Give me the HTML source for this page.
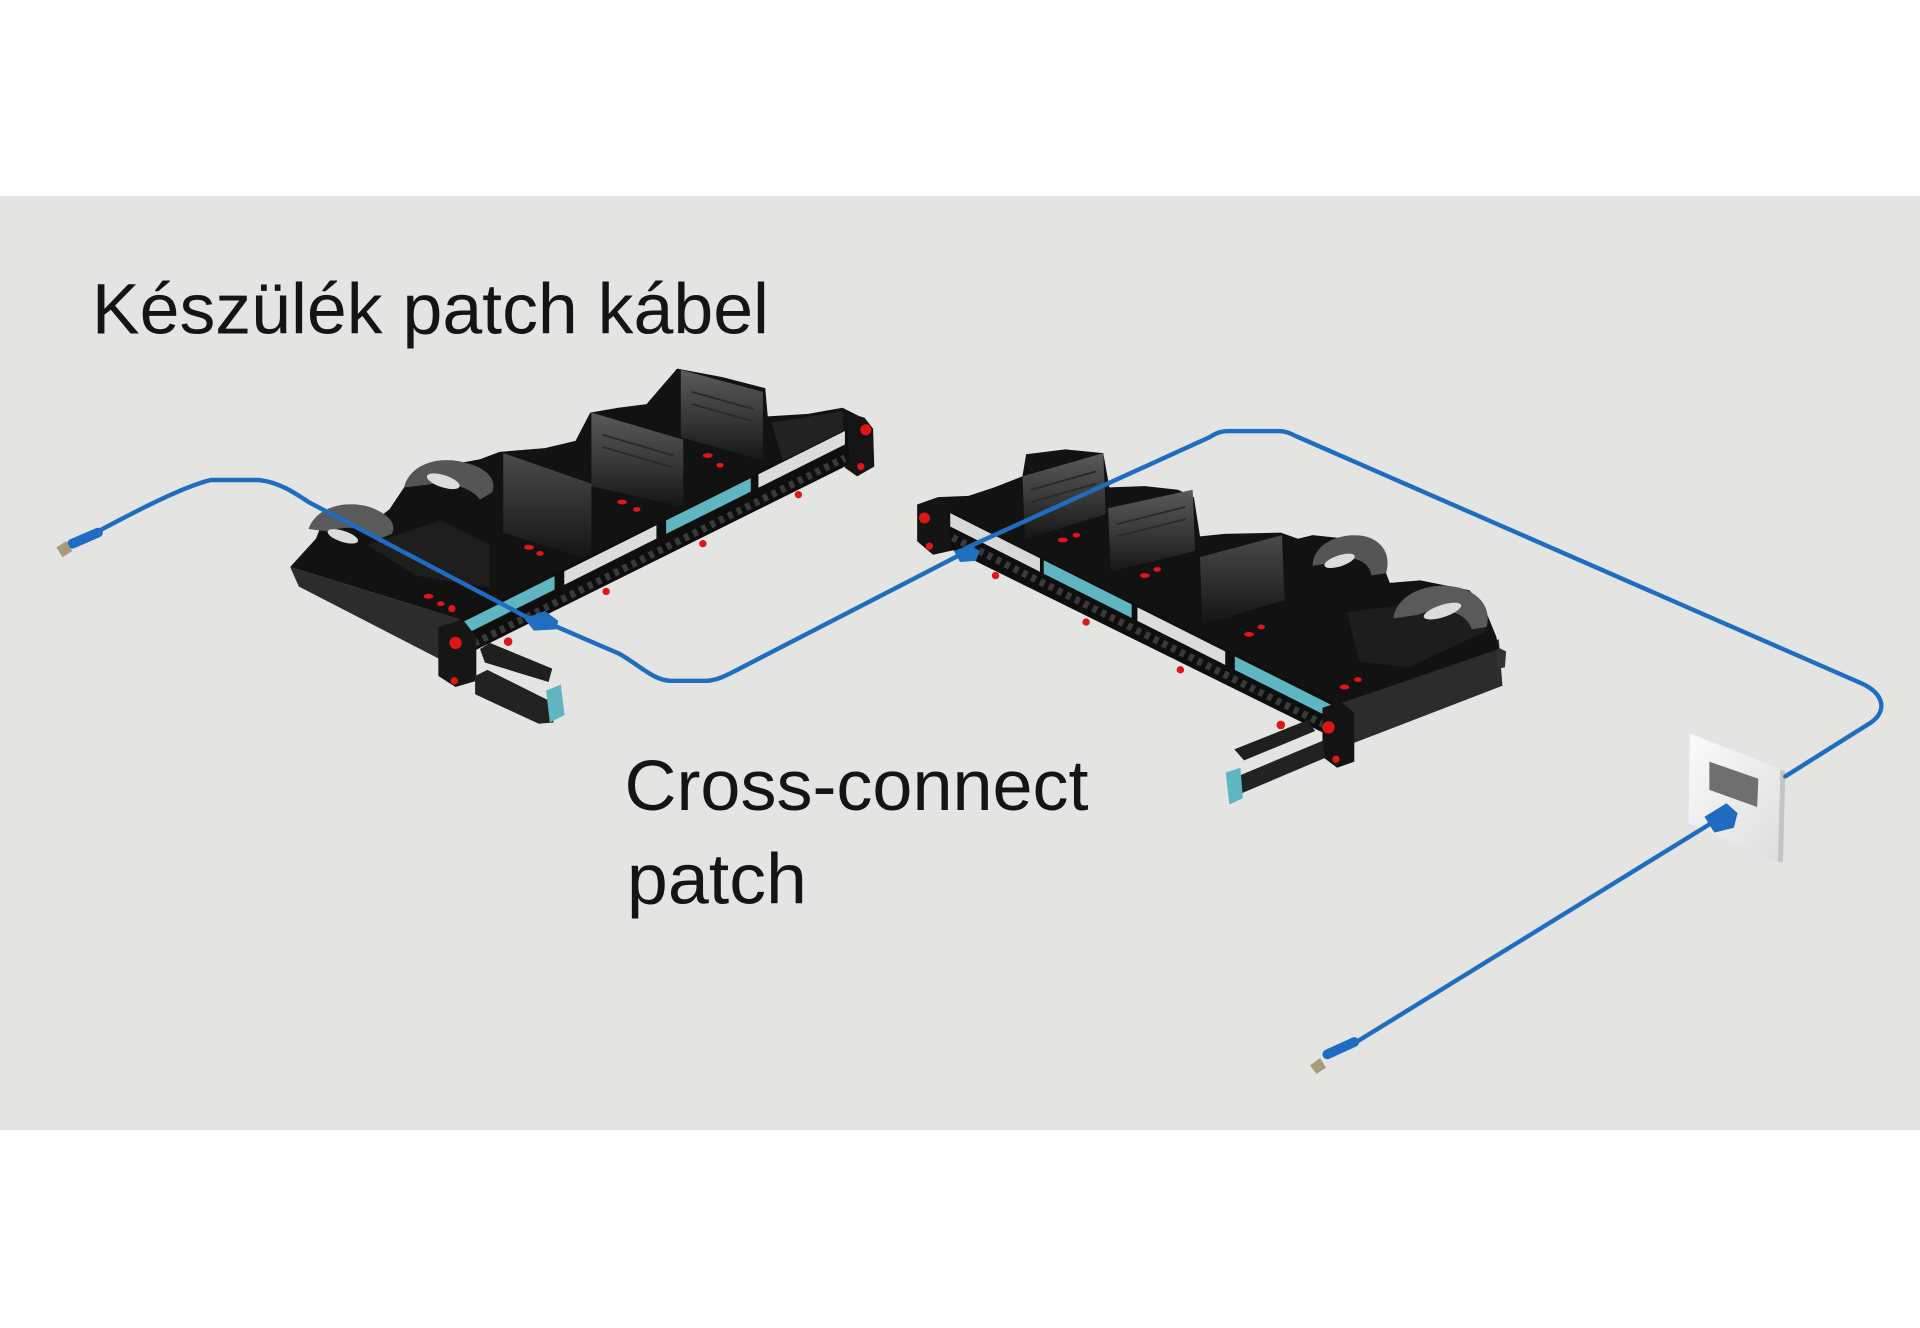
<!DOCTYPE html>
<html><head><meta charset="utf-8">
<style>
html,body{margin:0;padding:0;background:#fff;}
svg{display:block;}
</style></head><body>
<svg width="1920" height="1328" viewBox="0 0 1568 1084.5" preserveAspectRatio="none" xmlns="http://www.w3.org/2000/svg">
<defs>
 <linearGradient id="wall" x1="0" y1="0" x2="0" y2="1">
  <stop offset="0" stop-color="#4a4a4a"/>
  <stop offset="0.6" stop-color="#2a2a2a"/>
  <stop offset="1" stop-color="#141414"/>
 </linearGradient>
 <linearGradient id="wallL" x1="0" y1="0" x2="0" y2="1">
  <stop offset="0" stop-color="#5a5a5a"/>
  <stop offset="0.5" stop-color="#3a3a3a"/>
  <stop offset="1" stop-color="#161616"/>
 </linearGradient>
 <linearGradient id="plate" x1="0" y1="0" x2="1" y2="1">
  <stop offset="0" stop-color="#fafafa"/>
  <stop offset="1" stop-color="#dedede"/>
 </linearGradient>
</defs>
<rect x="0" y="0" width="1568" height="1084.5" fill="#ffffff"/>
<rect x="0" y="160" width="1568" height="762.8" fill="#e4e4e3"/>

<!-- Labels -->
<g font-family="'Liberation Sans', 'DejaVu Sans', sans-serif" font-size="58.5" fill="#141414">
 <text x="75" y="272.5" textLength="553" lengthAdjust="spacingAndGlyphs">Készülék patch kábel</text>
 <text x="510" y="661.5" textLength="379" lengthAdjust="spacingAndGlyphs">Cross-connect</text>
 <text x="512" y="738" textLength="147" lengthAdjust="spacingAndGlyphs">patch</text>
</g>

<!-- ============ PANEL 1 ============ -->
<g>
 <!-- left end face -->
 <polygon points="237,463 376,506 378,548 244,479" fill="#2c2c2c"/>
 <!-- top mass -->
 <polygon points="237,463 247,452 258,440 262,430 285,423 300,430 318,416 330,398 342,386 365,380 392,375 408,369 445,366 470,360 482,337 505,333 528,330 553,301 590,308 625,317 627,340 660,338 688,333 702,340 690,352 376,509 376,506" fill="#121212"/>
 <!-- inner textures -->
 <polygon points="300,445 360,425 400,445 400,480 340,470" fill="#1e1e1e"/>
 <polygon points="630,345 688,336 690,352 640,378" fill="#222"/>
 <!-- walls -->
 <polygon points="411,370 483,395 483,457 411,435" fill="url(#wall)"/>
 <polygon points="483,337 558,359 558,414 483,397" fill="url(#wallL)"/>
 <polygon points="556,302 623,320 623,376 556,357" fill="url(#wallL)"/>
 <g stroke="#2a2a2a" stroke-width="1.5">
  <line x1="565" y1="320" x2="615" y2="334"/>
  <line x1="565" y1="330" x2="615" y2="344"/>
  <line x1="492" y1="355" x2="550" y2="372"/>
  <line x1="492" y1="365" x2="550" y2="382"/>
 </g>
 <!-- curls -->
 <path d="M330,398 C335,378 360,372 380,378 C398,382 406,392 402,402 L392,408 C385,398 365,392 348,396 Z" fill="#555"/>
 <ellipse cx="362" cy="393" rx="14" ry="5" fill="#dcdcdc" transform="rotate(18 362 393)"/>
 <path d="M252,432 C258,414 282,408 302,414 C318,420 324,428 320,436 L310,440 C302,432 284,428 268,434 Z" fill="#5a5a5a"/>
 <ellipse cx="280" cy="438" rx="13" ry="4.5" fill="#dcdcdc" transform="rotate(18 280 438)"/>
 <!-- right end block -->
 <polygon points="688,336 706,341 713,350 714,381 700,389 690,382" fill="#151515"/>
 <!-- front face -->
 <polygon points="374,507 692,350 694,379 376,537" fill="#0e0e0e"/>
 <!-- strip sections -->
 <polygon points="376,509 452.9,470.5 452.9,481.5 376,520" fill="#5fb5c1"/>
 <polygon points="460.8,466.6 536.1,428.9 536.1,439.9 460.8,477.6" fill="#dcdcdc"/>
 <polygon points="544,425 613.1,390.5 613.1,401.5 544,436" fill="#5fb5c1"/>
 <polygon points="619.4,387.3 690,352 690,363 619.4,398.3" fill="#dcdcdc"/>
 <!-- ports -->
 <line x1="380" y1="529" x2="690" y2="374" stroke="#3a3a3a" stroke-width="6" stroke-dasharray="4 4"/>
 <!-- left vertical piece -->
 <polygon points="358,512 378,506 389,520 389,556 372,561 358,552" fill="#161616"/>
 <!-- arm -->
 <polygon points="392,530 400,525 451,546 448,557 396,541" fill="#1f1f1f"/>
 <polygon points="388,552 398,547 452,574 452,590 440,591 388,567" fill="#222"/>
 <polygon points="446,564 458,559 461,584 449,590" fill="#5fb6c2"/>
 <!-- red dots -->
 <g fill="#e01515">
  <circle cx="372" cy="525" r="5"/>
  <circle cx="369" cy="497" r="3"/>
  <circle cx="371" cy="556" r="3"/>
  <circle cx="415" cy="524" r="3.5"/>
  <circle cx="495" cy="483" r="3"/>
  <circle cx="574" cy="444" r="3"/>
  <circle cx="652" cy="404" r="3"/>
  <circle cx="707" cy="351" r="4.5"/>
  <circle cx="703" cy="381" r="3"/>
  <ellipse cx="432" cy="447" rx="4" ry="2"/>
  <ellipse cx="441" cy="452" rx="3" ry="2"/>
  <ellipse cx="508" cy="410" rx="4" ry="2"/>
  <ellipse cx="520" cy="416" rx="3" ry="2"/>
  <ellipse cx="578" cy="372" rx="4" ry="2"/>
  <ellipse cx="588" cy="380" rx="3" ry="2"/>
  <ellipse cx="350" cy="487" rx="4" ry="2"/>
  <ellipse cx="360" cy="493" rx="3" ry="2"/>
 </g>
</g>

<!-- ============ PANEL 2 ============ -->
<g>
 <!-- right slab face -->
 <polygon points="1090,575 1224,522 1227,560 1105,607 1092,606" fill="#2c2c2c"/>
 <polygon points="1222,528 1230,532 1229,545 1223,546" fill="#333"/>
 <!-- top mass -->
 <polygon points="766,406 791,405 812,398 835,389 838,371 870,367 901,370 906,398 935,397 962,400 975,406 980,438 1000,436 1046,435 1060,440 1072,437 1100,440 1128,458 1135,476 1160,474 1200,482 1213,498 1222,520 1224,530 1090,576 776,419" fill="#121212"/>
 <polygon points="1100,500 1180,490 1215,515 1150,545 1110,540" fill="#1d1d1d"/>
 <!-- walls -->
 <polygon points="835,389 901,370 903,420 837,440" fill="url(#wallL)"/>
 <polygon points="905,415 974,400 976,450 907,467" fill="url(#wallL)"/>
 <polygon points="980,455 1047,437 1049,490 982,510" fill="url(#wall)"/>
 <g stroke="#2a2a2a" stroke-width="1.5">
  <line x1="842" y1="400" x2="895" y2="385"/>
  <line x1="842" y1="410" x2="895" y2="395"/>
  <line x1="912" y1="428" x2="968" y2="414"/>
  <line x1="912" y1="438" x2="968" y2="424"/>
 </g>
 <!-- curls -->
 <path d="M1072,462 C1072,444 1095,434 1115,438 C1130,442 1136,454 1132,468 L1120,470 C1118,456 1100,452 1086,460 Z" fill="#555"/>
 <ellipse cx="1094" cy="458" rx="13" ry="4.5" fill="#dcdcdc" transform="rotate(-18 1094 458)"/>
 <path d="M1138,505 C1140,485 1168,474 1192,480 C1210,485 1218,498 1214,512 L1202,514 C1198,500 1178,494 1158,502 Z" fill="#5a5a5a"/>
 <ellipse cx="1178" cy="499" rx="16" ry="5" fill="#dcdcdc" transform="rotate(-18 1178 499)"/>
 <!-- left end block -->
 <polygon points="749,412 766,406 778,414 780,449 762,453 749,442" fill="#141414"/>
 <!-- front face -->
 <polygon points="774,417 1090,574 1092,604 776,448" fill="#0e0e0e"/>
 <!-- strip sections -->
 <polygon points="776,419 849.3,455.9 849.3,466.9 776,430" fill="#d8d8d8"/>
 <polygon points="852.4,457.5 924.2,493.6 924.2,504.6 852.4,468.5" fill="#5fb5c1"/>
 <polygon points="928.9,496 1000.6,532 1000.6,543 928.9,507" fill="#dcdcdc"/>
 <polygon points="1008.4,536 1088,576 1088,587 1008.4,547" fill="#5fb5c1"/>
 <!-- ports -->
 <line x1="778" y1="439" x2="1088" y2="595" stroke="#3a3a3a" stroke-width="6" stroke-dasharray="4 4"/>
 <!-- right vertical piece -->
 <polygon points="1080,578 1095,573 1106,582 1106,622 1092,627 1080,618" fill="#141414"/>
 <!-- arm -->
 <polygon points="1068,588 1074,597 1016,621 1008,612" fill="#1f1f1f"/>
 <polygon points="1080,605 1082,619 1016,647 1006,651 1006,636" fill="#222"/>
 <polygon points="1001,631 1013,627 1015,652 1004,657" fill="#5fb6c2"/>
 <!-- red -->
 <g fill="#e01515">
  <circle cx="755" cy="423" r="4.5"/>
  <circle cx="759" cy="446" r="3"/>
  <circle cx="813" cy="470" r="3"/>
  <circle cx="887" cy="508" r="3"/>
  <circle cx="964" cy="547" r="3"/>
  <circle cx="1046" cy="592" r="3.5"/>
  <circle cx="1085" cy="594" r="5"/>
  <circle cx="1091" cy="620" r="3"/>
  <ellipse cx="868" cy="441" rx="4" ry="2"/>
  <ellipse cx="879" cy="437" rx="3" ry="2"/>
  <ellipse cx="935" cy="470" rx="4" ry="2"/>
  <ellipse cx="945" cy="465" rx="3" ry="2"/>
  <ellipse cx="1020" cy="518" rx="4" ry="2"/>
  <ellipse cx="1030" cy="512" rx="3" ry="2"/>
  <ellipse cx="1098" cy="561" rx="4" ry="2"/>
  <ellipse cx="1109" cy="555" rx="3" ry="2"/>
 </g>
</g>

<!-- ============ WALL OUTLET ============ -->
<g>
 <polygon points="1452,627 1458,630 1456,705 1451,703" fill="#c4c4c4"/>
 <polygon points="1380,599 1454,628 1452,704 1379,672" fill="url(#plate)"/>
 <polygon points="1396,622 1436,636 1435,659 1396,645" fill="#6f6f6f"/>
</g>

<!-- ============ CABLES ============ -->
<g fill="none" stroke="#1f6dc0" stroke-width="3.6" stroke-linecap="round" stroke-linejoin="round">
 <!-- device patch -->
 <path d="M80,434 C110,418 148,398 172,392 L212,392 C228,394 240,402 252,410 L404,490 L432,505"/>
 <!-- cross-connect -->
 <path d="M455,512 L506,534 C522,543 534,556 548,556 L578,556 C588,555 596,550 604,546 L790,450"/>
 <!-- horizontal to outlet -->
 <path d="M790,447 L988,357 C994,353 998,352 1004,352 L1044,352 C1050,352 1054,354 1058,356 L1520,558 C1538,566 1542,580 1528,590 L1458,634"/>
 <!-- work area cord -->
 <path d="M1398,672 L1106,852"/>
</g>
<!-- connectors -->
<polygon points="428,505 445,499 456,507 454,514 436,515" fill="#1f6ec0"/>
<polygon points="779,450 792,445 800,450 797,458 784,459" fill="#1f6ec0"/>
<polygon points="1392,667 1410,656 1419,664 1416,676 1400,680" fill="#1e6bc0"/>
<!-- plugs -->
<line x1="59" y1="444" x2="80" y2="435" stroke="#1e6cc4" stroke-width="8" stroke-linecap="round"/>
<polygon points="46,447 54,442 59,450 51,455" fill="#a89a7c"/>
<line x1="1084" y1="861" x2="1106" y2="851" stroke="#1e6cc4" stroke-width="8" stroke-linecap="round"/>
<polygon points="1070,870 1078,864 1083,872 1075,877" fill="#a89a7c"/>
</svg>
</body></html>
